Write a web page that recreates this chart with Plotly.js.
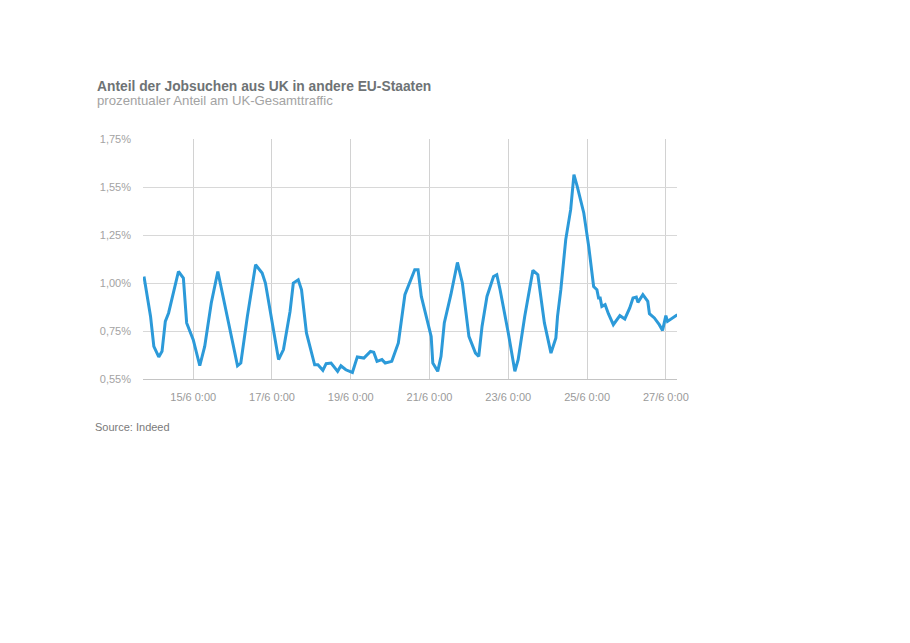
<!DOCTYPE html>
<html>
<head>
<meta charset="utf-8">
<script src="https://cdn.plot.ly/plotly-3.0.1.min.js"></script>
<style>
  html, body { margin: 0; padding: 0; background: #ffffff; }
  #chart { width: 910px; height: 643px; }
</style>
</head>
<body>
<div id="chart"></div>
<script>
// Zeitpunkte (Juni 2016) und Anteil der Jobsuchen in %
const times = [
  "2016-06-13 18:00","2016-06-13 22:00","2016-06-14 00:00","2016-06-14 03:00","2016-06-14 05:00",
  "2016-06-14 07:00","2016-06-14 09:00","2016-06-14 12:00","2016-06-14 15:00","2016-06-14 18:00",
  "2016-06-14 20:00","2016-06-15 00:00","2016-06-15 04:00","2016-06-15 07:00","2016-06-15 11:00",
  "2016-06-15 15:00","2016-06-15 19:00","2016-06-15 23:00","2016-06-16 03:00","2016-06-16 05:00",
  "2016-06-16 09:00","2016-06-16 14:00","2016-06-16 18:00","2016-06-16 20:00","2016-06-17 01:00",
  "2016-06-17 04:00","2016-06-17 07:00","2016-06-17 11:00","2016-06-17 13:00","2016-06-17 16:00",
  "2016-06-17 18:00","2016-06-17 21:00","2016-06-18 02:00","2016-06-18 04:00","2016-06-18 07:00",
  "2016-06-18 09:00","2016-06-18 12:00","2016-06-18 16:00","2016-06-18 18:00","2016-06-18 21:00",
  "2016-06-19 01:00","2016-06-19 04:00","2016-06-19 08:00","2016-06-19 12:00","2016-06-19 14:00",
  "2016-06-19 16:00","2016-06-19 19:00","2016-06-19 21:00","2016-06-20 01:00","2016-06-20 03:00",
  "2016-06-20 05:00","2016-06-20 09:00","2016-06-20 12:00","2016-06-20 15:00","2016-06-20 17:00",
  "2016-06-20 19:00","2016-06-21 01:00","2016-06-21 02:00","2016-06-21 05:00","2016-06-21 07:00",
  "2016-06-21 09:00","2016-06-21 13:00","2016-06-21 17:00","2016-06-21 20:00","2016-06-22 00:00",
  "2016-06-22 04:00","2016-06-22 06:00","2016-06-22 08:00","2016-06-22 11:00","2016-06-22 15:00",
  "2016-06-22 17:00","2016-06-22 19:00","2016-06-23 00:00","2016-06-23 04:00","2016-06-23 06:00",
  "2016-06-23 10:00","2016-06-23 15:00","2016-06-23 18:00","2016-06-23 22:00","2016-06-24 02:00",
  "2016-06-24 05:00","2016-06-24 06:00","2016-06-24 08:00","2016-06-24 11:00","2016-06-24 14:00",
  "2016-06-24 16:00","2016-06-24 18:00","2016-06-24 22:00","2016-06-25 01:00","2016-06-25 04:00",
  "2016-06-25 06:00","2016-06-25 07:00","2016-06-25 08:00","2016-06-25 09:00","2016-06-25 11:00",
  "2016-06-25 13:00","2016-06-25 16:00","2016-06-25 20:00","2016-06-25 23:00","2016-06-26 02:00",
  "2016-06-26 04:00","2016-06-26 06:00","2016-06-26 07:00","2016-06-26 10:00","2016-06-26 13:00",
  "2016-06-26 14:00","2016-06-26 17:00","2016-06-26 20:00","2016-06-26 22:00","2016-06-27 00:00",
  "2016-06-27 01:00","2016-06-27 05:00","2016-06-27 07:00"
];
const shares = [
  1.034,0.826,0.670,0.615,0.644,
  0.800,0.844,0.948,1.060,1.026,
  0.792,0.705,0.569,0.670,0.896,
  1.060,0.896,0.740,0.569,0.583,
  0.826,1.095,1.052,1.000,0.757,
  0.601,0.653,0.852,1.000,1.017,
  0.965,0.740,0.574,0.574,0.545,
  0.580,0.583,0.540,0.569,0.548,
  0.534,0.615,0.609,0.644,0.639,
  0.592,0.601,0.583,0.592,0.635,
  0.688,0.939,1.000,1.069,1.069,
  0.930,0.722,0.583,0.540,0.618,
  0.792,0.939,1.107,1.000,0.722,
  0.635,0.618,0.774,0.930,1.034,
  1.043,0.965,0.740,0.540,0.601,
  0.826,1.066,1.043,0.792,0.635,
  0.714,0.826,0.965,1.226,1.382,
  1.564,1.503,1.365,1.191,0.982,
  0.965,0.922,0.922,0.878,0.887,
  0.840,0.783,0.830,0.813,0.870,
  0.922,0.927,0.899,0.939,0.904,
  0.840,0.818,0.783,0.753,0.830,
  0.800,0.826,0.835
];
// Achsenbeschriftungen
const xTickVals = ["2016-06-15","2016-06-17","2016-06-19","2016-06-21","2016-06-23","2016-06-25","2016-06-27"];
const xTickText = ["15/6 0:00","17/6 0:00","19/6 0:00","21/6 0:00","23/6 0:00","25/6 0:00","27/6 0:00"];
const yTickVals = [0.50, 0.75, 1.00, 1.25, 1.50, 1.75];
const yTickText = ["0,55%","0,75%","1,00%","1,25%","1,55%","1,75%"];

const trace = {
  x: times,
  y: shares,
  type: "scatter",
  mode: "lines",
  line: { color: "#2c9ad9", width: 3, shape: "linear" },
  hoverinfo: "x+y"
};

const layout = {
  width: 910,
  height: 643,
  paper_bgcolor: "#ffffff",
  plot_bgcolor: "#ffffff",
  margin: { l: 143, r: 233, t: 139, b: 264 },
  showlegend: false,
  font: { family: "Liberation Sans, Arial, sans-serif", color: "#9a9a9a", size: 11 },
  title: {
    text: "<b>Anteil der Jobsuchen aus UK in andere EU-Staaten</b>",
    font: { family: "Liberation Sans, Arial, sans-serif", size: 13.8, color: "#6e7375" },
    x: 97 / 910, xanchor: "left", xref: "container",
    y: 1 - 86 / 643, yanchor: "middle", yref: "container"
  },
  xaxis: {
    type: "date",
    range: ["2016-06-13 17:24", "2016-06-27 06:48"],
    tickmode: "array",
    tickvals: xTickVals,
    ticktext: xTickText,
    showgrid: true,
    gridcolor: "#d2d2d2",
    gridwidth: 1,
    zeroline: false,
    showline: true,
    linecolor: "#c4c4c4",
    linewidth: 1,
    ticks: "",
    ticklabelstandoff: 8,
    tickfont: { size: 11, color: "#9a9a9a" },
    fixedrange: true
  },
  yaxis: {
    range: [0.5, 1.75],
    tickmode: "array",
    tickvals: yTickVals,
    ticktext: yTickText,
    showgrid: true,
    gridcolor: "#d8d8d8",
    gridwidth: 1,
    zeroline: false,
    showline: false,
    ticks: "",
    ticklabelstandoff: 11,
    tickfont: { size: 11, color: "#a3a3a3" },
    fixedrange: true
  },
  annotations: [
    {
      text: "prozentualer Anteil am UK-Gesamttraffic",
      xref: "paper", yref: "paper",
      x: (95 - 143) / 534, y: (379.3 - 101) / 240,
      xanchor: "left", yanchor: "middle",
      showarrow: false,
      font: { family: "Liberation Sans, Arial, sans-serif", size: 13.2, color: "#a3a3a3" }
    },
    {
      text: "Source: Indeed",
      xref: "paper", yref: "paper",
      x: (93 - 143) / 534, y: (379.3 - 427) / 240,
      xanchor: "left", yanchor: "middle",
      showarrow: false,
      font: { family: "Liberation Sans, Arial, sans-serif", size: 11, color: "#7a7a7a" }
    }
  ]
};

Plotly.newPlot("chart", [trace], layout, { displayModeBar: false, staticPlot: true });
</script>
</body>
</html>
